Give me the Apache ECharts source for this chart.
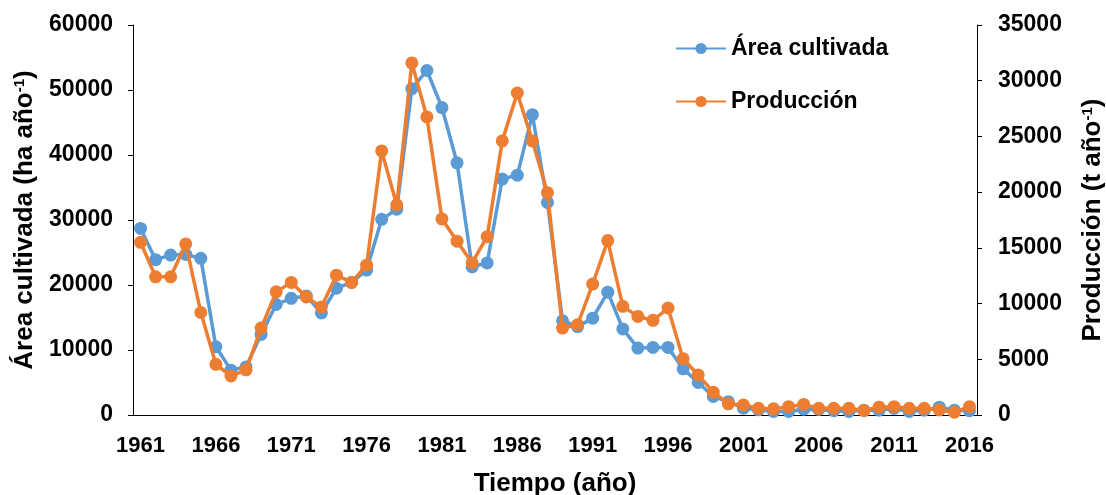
<!DOCTYPE html>
<html>
<head>
<meta charset="utf-8">
<script src="https://cdn.jsdelivr.net/npm/echarts@6/dist/echarts.min.js"></script>
<style>
html, body { margin: 0; padding: 0; background: #fff; }
#chart { width: 1106px; height: 495px; }
</style>
</head>
<body>
<div id="chart"></div>
<script>
// años 1961-2016
var years = ['1961','1962','1963','1964','1965','1966','1967','1968','1969','1970',
  '1971','1972','1973','1974','1975','1976','1977','1978','1979','1980',
  '1981','1982','1983','1984','1985','1986','1987','1988','1989','1990',
  '1991','1992','1993','1994','1995','1996','1997','1998','1999','2000',
  '2001','2002','2003','2004','2005','2006','2007','2008','2009','2010',
  '2011','2012','2013','2014','2015','2016'];

// Área cultivada (ha año-1) - eje izquierdo
var area = [28700, 23900, 24600, 24700, 24100, 10500, 6900, 7400, 12400, 17000,
  17950, 18300, 15700, 19500, 20400, 22300, 30100, 31650, 50200, 53000,
  47300, 38800, 22800, 23400, 36300, 36900, 46200, 32700, 14500, 13600,
  14900, 18900, 13250, 10300, 10400, 10400, 7100, 5000, 2850, 2050,
  1050, 800, 550, 550, 900, 850, 650, 550, 750, 750,
  1000, 550, 750, 1200, 750, 650];

// Producción (t año-1) - eje derecho
var produccion = [15500, 12400, 12400, 15350, 9200, 4550, 3500, 4050, 7800, 11050,
  11900, 10600, 9700, 12550, 11900, 13450, 23700, 18850, 31600, 26750,
  17600, 15600, 13650, 16000, 24600, 28900, 24600, 19950, 7800, 8100,
  11750, 15650, 9750, 8850, 8500, 9600, 5050, 3600, 2050, 1000,
  900, 600, 550, 750, 950, 600, 600, 600, 400, 700,
  750, 600, 600, 450, 250, 750];

var leftTicks = [0, 60000, 10000];
var rightTicks = [0, 35000, 5000];

var FONT = 'Liberation Sans, Arial, sans-serif';
var supRich = {
  s: { fontSize: 15, fontWeight: 'bold', fontFamily: FONT, color: '#000', verticalAlign: 'top', lineHeight: 16 }
};
function plain(v) { return String(v); }

var myChart = echarts.init(document.getElementById('chart'));
var option = {
  animation: false,
  backgroundColor: '#fff',
  color: ['#5B9BD5', '#ED7D31'],
  grid: { left: 133, right: 129, top: 25, bottom: 80, containLabel: false, outerBoundsMode: 'none' },
  legend: {
    orient: 'vertical',
    left: 670,
    top: 32,
    itemWidth: 50,
    itemHeight: 14,
    itemGap: 30,
    textStyle: { fontSize: 23, fontWeight: 'bold', fontFamily: FONT, color: '#000' },
    data: ['Área cultivada', 'Producción']
  },
  xAxis: {
    type: 'category',
    data: years,
    boundaryGap: true,
    name: 'Tiempo (año)',
    nameLocation: 'middle',
    nameGap: 56,
    nameTextStyle: { fontSize: 26, fontWeight: 'bold', fontFamily: FONT, color: '#000' },
    axisLine: { lineStyle: { color: '#000', width: 1 } },
    axisTick: { interval: 4, length: 5, lineStyle: { color: '#000' } },
    axisLabel: { interval: 4, margin: 20, fontSize: 22, fontWeight: 'bold', fontFamily: FONT, color: '#000' },
    splitLine: { show: false }
  },
  yAxis: [
    {
      type: 'value',
      min: leftTicks[0], max: leftTicks[1], interval: leftTicks[2],
      name: 'Área cultivada (ha año{s|-1})',
      nameLocation: 'middle',
      nameRotate: 90,
      nameGap: 92,
      nameTextStyle: { fontSize: 26, fontWeight: 'bold', fontFamily: FONT, color: '#000', rich: supRich },
      axisLine: { show: true, lineStyle: { color: '#000', width: 1 } },
      axisTick: { show: true, length: 5, lineStyle: { color: '#000' } },
      axisLabel: { margin: 20, formatter: plain, fontSize: 23, fontWeight: 'bold', fontFamily: FONT, color: '#000' },
      splitLine: { show: false }
    },
    {
      type: 'value',
      position: 'right',
      min: rightTicks[0], max: rightTicks[1], interval: rightTicks[2],
      name: 'Producción (t año{s|-1})',
      nameLocation: 'middle',
      nameRotate: 90,
      nameGap: 103,
      nameTextStyle: { fontSize: 26, fontWeight: 'bold', fontFamily: FONT, color: '#000', rich: supRich },
      axisLine: { show: true, lineStyle: { color: '#000', width: 1 } },
      axisTick: { show: true, length: 5, lineStyle: { color: '#000' } },
      axisLabel: { margin: 21, formatter: plain, fontSize: 23, fontWeight: 'bold', fontFamily: FONT, color: '#000' },
      splitLine: { show: false }
    }
  ],
  series: [
    {
      name: 'Área cultivada',
      type: 'line',
      yAxisIndex: 0,
      data: area,
      symbol: 'circle',
      symbolSize: 13,
      showAllSymbol: true,
      lineStyle: { width: 3.5, color: '#5B9BD5' },
      itemStyle: { color: '#5B9BD5' },
      z: 2
    },
    {
      name: 'Producción',
      type: 'line',
      yAxisIndex: 1,
      data: produccion,
      symbol: 'circle',
      symbolSize: 13,
      showAllSymbol: true,
      lineStyle: { width: 3.5, color: '#ED7D31' },
      itemStyle: { color: '#ED7D31' },
      z: 3
    }
  ]
};
myChart.setOption(option);
window.onresize = function () {
  myChart.resize();
};
</script>
</body>
</html>
